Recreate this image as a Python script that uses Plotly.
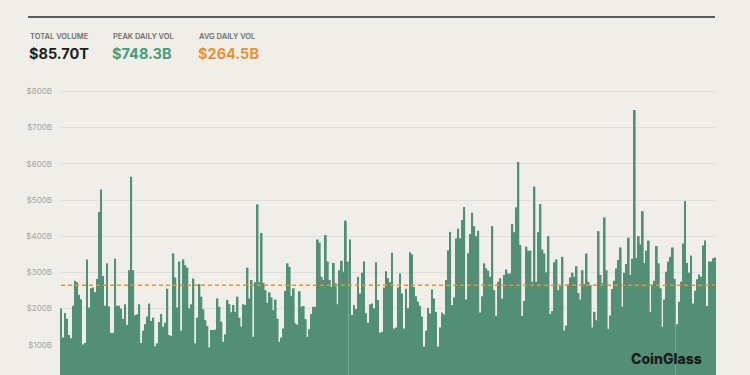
import plotly.graph_objects as go

# ---- data ----
daily_volume_b = [
    200, 120, 188, 172, 127, 118, 208, 277, 273, 238, 226, 101, 105, 336, 203, 256, 258, 245, 282, 467,
    529, 290, 208, 325, 206, 133, 133, 338, 208, 208,
    200, 172, 212, 155, 306, 564, 306, 182, 184, 212, 105, 139, 157, 178, 214, 166, 175, 96, 104, 163,
    185, 150, 161, 255, 127, 124, 353,
    286, 203, 330, 139, 336, 320, 313, 201, 212, 283, 104, 175, 268, 233, 198, 168, 152, 93, 141, 141,
    142, 228, 205, 164, 108, 129, 224, 212, 190, 210,
    191, 233, 175, 150, 212, 210, 313, 228, 279, 122, 273, 488, 273, 409, 271, 251, 216, 245, 231, 196,
    225, 172, 108, 120, 145, 249, 325, 315, 235, 256,
    159, 155, 248, 205, 207, 171, 122, 143, 185, 205, 205, 391, 382, 288, 279, 403, 330, 279, 260, 326,
    270, 212, 306, 332, 302, 443, 330, 391, 182, 210,
    199, 288, 242, 299, 330, 187, 161, 212, 214, 201, 328, 224, 133, 136, 258, 303, 284, 273, 354, 145,
    148, 258, 297, 242, 145, 255, 201, 356, 350, 260,
    234, 219, 207, 178, 95, 139, 202, 187, 253, 228, 191, 95, 148, 189, 184, 279, 361, 412, 210, 231,
    394, 421, 394, 445, 481, 225, 353, 406, 465, 428,
    400, 415, 189, 234, 325, 311, 305, 288, 428, 251, 180, 274, 284, 227, 293, 308, 297, 297, 434, 411,
    480, 605, 376, 180, 221, 371, 360, 360, 274, 537,
    274, 411, 489, 363, 352, 300, 400, 185, 193, 328, 336, 251, 262, 343, 139, 153, 267, 286, 299, 288,
    317, 243, 225, 306, 267, 352, 274, 265, 148, 191,
    168, 414, 293, 270, 452, 306, 144, 181, 254, 277, 311, 334, 369, 205, 299, 323, 396, 293, 338, 748.3,
    340, 400, 377, 469, 326, 360, 388, 191, 267, 277,
    373, 325, 256, 150, 225, 302, 330, 343, 369, 282, 157, 219, 274, 380, 497, 326, 299, 347, 214, 249,
    281, 294, 288, 374, 388, 207, 330, 330, 339, 341,
]
day_index = list(range(len(daily_volume_b)))

y_tick_values = [100, 200, 300, 400, 500, 600, 700, 800]
y_tick_labels = ["$100B", "$200B", "$300B", "$400B", "$500B", "$600B", "$700B", "$800B"]

stat_titles = ["TOTAL VOLUME", "PEAK DAILY VOL", "AVG DAILY VOL"]
stat_values = ["$85.70T", "$748.3B", "$264.5B"]
AVG_DAILY_B = 264.5

# ---- style ----
BG = "#efeee9"
BAR = "#528f76"
GREEN = "#4a9b7b"
ORANGE = "#e8913a"
W, H = 750, 375
PLOT_L, PLOT_R, PLOT_T, PLOT_B = 60, 716, 85, 375


def px_x(x):
    return (x - PLOT_L) / (PLOT_R - PLOT_L)


def px_y(y):
    return (PLOT_B - y) / (PLOT_B - PLOT_T)


fig = go.Figure()
fig.add_trace(go.Bar(
    x=day_index, y=daily_volume_b,
    marker=dict(color=BAR, line=dict(width=0)),
    hoverinfo="y",
))

# average line
fig.add_shape(type="line", xref="paper", yref="y", x0=px_x(61), x1=px_x(715),
              y0=AVG_DAILY_B, y1=AVG_DAILY_B,
              line=dict(color=ORANGE, width=1.5, dash="4px,3px"), layer="above")

# header rule
fig.add_shape(type="line", xref="paper", yref="paper", x0=px_x(28), x1=px_x(715),
              y0=px_y(17), y1=px_y(17), line=dict(color="#5b5b5b", width=2))

stat_x = [28, 111, 197]
value_colors = ["#1e1e1e", GREEN, ORANGE]
for sx, title, val, col in zip(stat_x, stat_titles, stat_values, value_colors):
    fig.add_annotation(xref="paper", yref="paper", x=px_x(sx), y=px_y(36),
                       xanchor="left", yanchor="middle", showarrow=False, text=title,
                       font=dict(family="Inter", size=7.5, color="#6e6e6c", weight=600))
    fig.add_annotation(xref="paper", yref="paper", x=px_x(sx - 1), y=px_y(53),
                       xanchor="left", yanchor="middle", showarrow=False, text=val,
                       font=dict(family="Inter", size=14.5, color=col, weight=700))

fig.add_annotation(xref="paper", yref="paper", x=px_x(704), y=px_y(358),
                   xanchor="right", yanchor="middle", showarrow=False, text="CoinGlass",
                   font=dict(family="Inter", size=14, color="#1a1a1a", weight=800))

fig.update_layout(
    width=W, height=H,
    margin=dict(l=PLOT_L, r=W - PLOT_R, t=PLOT_T, b=0, pad=0),
    paper_bgcolor=BG, plot_bgcolor=BG,
    showlegend=False, bargap=0.12,
    xaxis=dict(visible=False, range=[-0.5, len(daily_volume_b) - 0.5], automargin=False),
    yaxis=dict(range=[16.6, 817.7], tickvals=y_tick_values, ticktext=y_tick_labels,
               showgrid=True, gridcolor="#e0dfda", gridwidth=1, zeroline=False,
               showline=False, ticks="", ticklabelstandoff=7, automargin=False,
               tickfont=dict(family="Inter", size=8, color="#a3a29e")),
)

fig.write_html(
    "out.html",
    config={"displayModeBar": False},
    post_script="document.body.style.margin='0';document.body.style.overflow='hidden';"
                "document.body.style.background='" + BG + "';",
)
